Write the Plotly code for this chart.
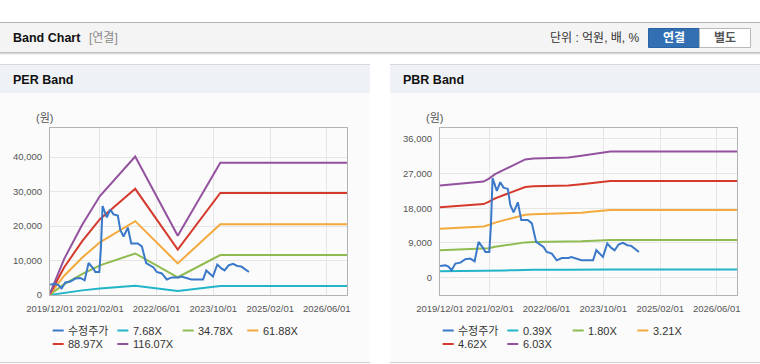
import plotly.graph_objects as go

W, H = 760, 364
FONT = "Liberation Sans, Arial, Noto Sans CJK KR, sans-serif"

# ---------------- data ----------------
price_dates = ["2019-12-02", "2020-01-16", "2020-02-12", "2020-03-09", "2020-04-11", "2020-05-24",
               "2020-07-05", "2020-08-17", "2020-09-23", "2020-10-27", "2020-12-09", "2020-12-24",
               "2021-01-27", "2021-02-10", "2021-02-24", "2021-04-02", "2021-05-01", "2021-05-29",
               "2021-07-05", "2021-07-26", "2021-08-23", "2021-09-29", "2021-10-28", "2021-12-23",
               "2022-01-27", "2022-03-05", "2022-05-07", "2022-06-04", "2022-07-17", "2022-08-29",
               "2022-10-11", "2022-12-07", "2023-01-01", "2023-02-13", "2023-03-28", "2023-07-06",
               "2023-08-03", "2023-08-31", "2023-09-29", "2023-11-05", "2023-12-10", "2024-01-07",
               "2024-02-10", "2024-03-19", "2024-04-25", "2024-05-29", "2024-06-26", "2024-08-03"]
price_vals = [3030, 3210, 2900, 1950, 3650, 3900,
              4770, 4950, 4250, 9290, 7560, 6680,
              6680, 13640, 25830, 22520, 24790, 23380,
              23040, 18860, 16960, 19570, 14950, 14950,
              14090, 9290, 7980, 6680, 6260, 4510,
              5110, 5110, 5370, 4960, 4510, 4510,
              7120, 6260, 5370, 8870, 7720, 7120,
              8610, 9030, 8430, 8250, 7570, 6680]

per_dates = ["2019-12-01", "2020-04-01", "2020-09-01", "2021-02-01", "2021-12-01",
             "2022-12-01", "2023-12-01", "2026-11-22"]
per_names = ["7.68X", "34.78X", "61.88X", "88.97X", "116.07X"]
per_768 = [30, 700, 1340, 1900, 2660, 1180, 2600, 2600]
per_3478 = [150, 3150, 6080, 8600, 12050, 5150, 11600, 11600]
per_6188 = [270, 5600, 10820, 15300, 21430, 9170, 20550, 20550]
per_8897 = [380, 8050, 15560, 22000, 30810, 13180, 29600, 29600]
per_11607 = [500, 10500, 20300, 28700, 40200, 17200, 38400, 38400]

pbr_dates = ["2019-12-01", "2020-05-09", "2020-12-09", "2021-01-21", "2021-03-18", "2021-06-13",
             "2021-09-06", "2021-12-01", "2022-02-10", "2022-12-07", "2023-03-28", "2023-07-11",
             "2023-12-01", "2026-11-22"]
pbr_names = ["0.39X", "1.80X", "3.21X", "4.62X", "6.03X"]
pbr_039 = [1650, 1660, 1680, 1720, 1790, 1870, 1950, 2020, 2040, 2060, 2080, 2110, 2150, 2150]
pbr_180 = [7130, 7290, 7450, 7660, 8020, 8410, 8800, 9160, 9240, 9310, 9450, 9600, 9780, 9780]
pbr_321 = [12720, 13000, 13280, 13650, 14300, 15000, 15690, 16330, 16470, 16610, 16850, 17200, 17550, 17550]
pbr_462 = [18310, 18710, 19110, 19650, 20590, 21590, 22590, 23510, 23710, 23910, 24250, 24650, 25110, 25110]
pbr_603 = [23900, 24420, 24940, 25650, 26870, 28180, 29480, 30680, 30940, 31200, 31650, 32170, 32770, 32770]

price_name = "수정주가"
x_tick_vals = ["2019-12-01", "2021-02-01", "2022-06-01", "2023-10-01", "2025-02-01", "2026-06-01"]
x_tick_text = ["2019/12/01", "2021/02/01", "2022/06/01", "2023/10/01", "2025/02/01", "2026/06/01"]
per_y_ticks = [0, 10000, 20000, 30000, 40000]
pbr_y_ticks = [0, 9000, 18000, 27000, 36000]

band_colors = ["#22b4c8", "#8fbb50", "#f3a93c", "#d4392c", "#93529e"]
price_color = "#3a79c9"

# ---------------- helpers ----------------
def px(x):
    return x / W

def py(y):
    return 1 - y / H

fig = go.Figure()

per_bands = [per_768, per_3478, per_6188, per_8897, per_11607]
pbr_bands = [pbr_039, pbr_180, pbr_321, pbr_462, pbr_603]

for vals, name, col in zip(per_bands, per_names, band_colors):
    fig.add_trace(go.Scatter(x=per_dates, y=vals, name=name, mode="lines",
                             line=dict(color=col, width=2), xaxis="x", yaxis="y", showlegend=False))
fig.add_trace(go.Scatter(x=price_dates, y=price_vals, name=price_name, mode="lines",
                         line=dict(color=price_color, width=2), xaxis="x", yaxis="y", showlegend=False))

for vals, name, col in zip(pbr_bands, pbr_names, band_colors):
    fig.add_trace(go.Scatter(x=pbr_dates, y=vals, name=name, mode="lines",
                             line=dict(color=col, width=2), xaxis="x2", yaxis="y2", showlegend=False))
fig.add_trace(go.Scatter(x=price_dates, y=price_vals, name=price_name, mode="lines",
                         line=dict(color=price_color, width=2), xaxis="x2", yaxis="y2", showlegend=False))

axis_common = dict(showgrid=True, gridcolor="#e6e6e6", gridwidth=1, showline=True, linecolor="#b3b3b3",
                   linewidth=1, mirror=True, zeroline=False, ticks="",
                   tickfont=dict(size=9.5, color="#555555", family=FONT), ticklabelstandoff=5)

ydom = [py(295), py(128)]
fig.update_layout(
    width=W, height=H, margin=dict(l=0, r=0, t=0, b=0, autoexpand=False),
    paper_bgcolor="white", plot_bgcolor="rgba(0,0,0,0)",
    font=dict(family=FONT, color="#333333"),
    xaxis=dict(domain=[px(50), px(347)], type="date", range=["2019-12-01", "2026-11-22"],
               tickvals=x_tick_vals, ticktext=x_tick_text, tickangle=0, anchor="y", **axis_common),
    yaxis=dict(domain=ydom, range=[0, 48460], tickvals=per_y_ticks, tickformat=",d", anchor="x",
               **axis_common),
    xaxis2=dict(domain=[px(440), px(737)], type="date", range=["2019-12-01", "2026-11-22"],
                tickvals=x_tick_vals, ticktext=x_tick_text, tickangle=0, anchor="y2", **axis_common),
    yaxis2=dict(domain=ydom, range=[-4500, 38850], tickvals=pbr_y_ticks, tickformat=",d", anchor="x2",
                **axis_common),
    showlegend=False,
)

shapes = []
def rect(x0, y0, x1, y1, fill, line=None, layer="below"):
    shapes.append(dict(type="rect", xref="paper", yref="paper", x0=px(x0), x1=px(x1), y0=py(y1), y1=py(y0),
                       fillcolor=fill, line=dict(width=1 if line else 0, color=line or fill), layer=layer))

def hline(x0, x1, y, color, width=1, layer="below"):
    shapes.append(dict(type="line", xref="paper", yref="paper", x0=px(x0), x1=px(x1), y0=py(y), y1=py(y),
                       line=dict(color=color, width=width), layer=layer))

# header bar
rect(0, 22.5, 760, 52.5, "#f4f4f4")
hline(0, 760, 22.5, "#b5b5b5")
hline(0, 760, 52.5, "#bdbdbd")
hline(0, 760, 53.5, "#dcdcdc")
hline(0, 760, 54.5, "#efefef")
# panels
for x0, x1 in [(0, 370), (390, 760)]:
    rect(x0, 93, x1, 362, "#fbfbfb")
    rect(x0, 64, x1, 93, "#eef2f7")
    hline(x0, x1, 64.5, "#d6d6d6")
    hline(x0, x1, 362.5, "#d0d0d0")
# buttons
rect(648.5, 28.5, 699.5, 47.5, "#336fb3", line="#2b62a3", layer="above")
rect(699.5, 28.5, 750.5, 47.5, "#ffffff", line="#b8b8b8", layer="above")

annotations = []
def text(x, y, s, size=12, color="#333333", bold=False, anchor="left"):
    annotations.append(dict(xref="paper", yref="paper", x=px(x), y=py(y), text=("<b>%s</b>" % s) if bold else s,
                            showarrow=False, xanchor=anchor, yanchor="middle",
                            font=dict(size=size, color=color, family=FONT)))

text(11, 38, "Band Chart", size=12.5, color="#111111", bold=True)
text(87, 38, "[연결]", size=12, color="#8a8a8a")
text(642, 38, "단위 : 억원, 배, %", size=12, color="#333333", anchor="right")
text(674, 38, "연결", size=12, color="#ffffff", bold=True, anchor="center")
text(725, 38, "별도", size=12, color="#555555", bold=True, anchor="center")
text(11, 80, "PER Band", size=12.5, color="#111111", bold=True)
text(401, 80, "PBR Band", size=12.5, color="#111111", bold=True)
text(44, 118, "(원)", size=11, color="#555555", anchor="center")
text(434, 118, "(원)", size=11, color="#555555", anchor="center")

# custom legends
col_x = [52.7, 117.3, 182.7, 247.3]
row_y = [330.5, 344]
for off, names in [(0, per_names), (390, pbr_names)]:
    items = [(price_name, price_color)] + list(zip(names, band_colors))
    for i, (nm, col) in enumerate(items):
        r, c = divmod(i, 4)
        x = off + col_x[c]
        y = row_y[r]
        hline(x, x + 11, y, col, width=2, layer="above")
        text(x + 13.5, y, nm, size=11, color="#333333")

fig.update_layout(shapes=shapes, annotations=annotations)

fig.write_html("out.html", config={"displayModeBar": False},
               post_script="document.body.style.margin='0';document.body.style.overflow='hidden';")
